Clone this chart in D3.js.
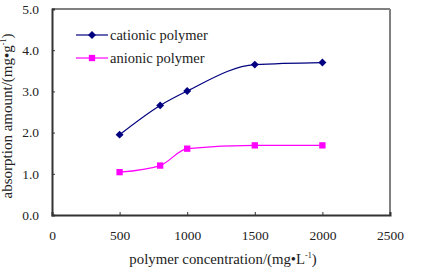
<!DOCTYPE html>
<html>
<head>
<meta charset="UTF-8">
<script src="https://d3js.org/d3.v7.min.js"></script>
</head>
<body style="margin:0">
<svg width="421" height="276" style="display:block"></svg>
<script>
    const concentration = [500, 800, 1000, 1500, 2000];
    const cationic = [1.95, 2.66, 3.01, 3.65, 3.70];
    const anionic = [1.04, 1.20, 1.61, 1.69, 1.69];
    const xTicks = [0, 500, 1000, 1500, 2000, 2500];
    const yTicks = [0, 1, 2, 3, 4, 5];

    const svg = d3.select("svg");
    const plotL = 52, plotR = 390, plotT = 9, plotB = 215;
    const serif = '"Liberation Serif"';

    function face(sel, size) {
      return sel.style("font-family", serif).attr("font-size", size).attr("fill", "#222");
    }

    const x = d3.scaleLinear().domain([0, 2500]).range([plotL, plotR]);
    const y = d3.scaleLinear().domain([0, 5]).range([plotB, plotT]);

    // frame: top/right grey, left/bottom dark
    svg.append("line").attr("x1", plotL).attr("x2", plotR).attr("y1", plotT).attr("y2", plotT)
      .attr("stroke", "#808080").attr("stroke-width", 2);
    svg.append("line").attr("x1", plotR).attr("x2", plotR).attr("y1", plotT).attr("y2", plotB)
      .attr("stroke", "#808080").attr("stroke-width", 2);

    const yAxis = svg.append("g").attr("transform", `translate(${plotL},0)`)
      .call(d3.axisLeft(y).tickValues(yTicks).tickFormat(d3.format(".1f")).tickSize(-3).tickPadding(13));
    const xAxis = svg.append("g").attr("transform", `translate(0,${plotB})`)
      .call(d3.axisBottom(x).tickValues(xTicks).tickFormat(d3.format("d")).tickSize(-3).tickPadding(15));
    [xAxis, yAxis].forEach(g => {
      g.attr("font-family", null).attr("font-size", null);
      g.select(".domain").attr("stroke", "#333").attr("stroke-width", 2);
      g.selectAll(".tick line").attr("stroke", "#333");
      face(g.selectAll(".tick text"), 13.5);
    });
    xAxis.selectAll(".tick").filter(d => d === 0 || d === 2500).select("line").remove();

    const line = d3.line().x((d, i) => x(concentration[i])).y(d => y(d))
      .curve(d3.curveMonotoneX);

    const series = [
      { name: "cationic polymer", values: cationic, color: "#000080", shape: d3.symbolDiamond2, size: 40 },
      { name: "anionic polymer", values: anionic, color: "#ff00ff", shape: d3.symbolSquare, size: 40 }
    ];

    series.forEach(s => {
      svg.append("path").attr("d", line(s.values)).attr("fill", "none")
        .attr("stroke", s.color).attr("stroke-width", 1.2);
      svg.selectAll(null).data(s.values).enter().append("path")
        .attr("d", d3.symbol().type(s.shape).size(s.size))
        .attr("transform", (d, i) => `translate(${x(concentration[i])},${y(d)})`)
        .attr("fill", s.color);
    });

    // legend
    series.forEach((s, i) => {
      const ly = 35 + i * 23;
      svg.append("line").attr("x1", 76).attr("x2", 108).attr("y1", ly).attr("y2", ly)
        .attr("stroke", s.color).attr("stroke-width", 1.2);
      svg.append("path").attr("d", d3.symbol().type(s.shape).size(s.size))
        .attr("transform", `translate(92,${ly})`).attr("fill", s.color);
      face(svg.append("text").attr("x", 110).attr("y", ly + 4.5), 14.5).text(s.name);
    });

    // axis titles
    const xt = face(svg.append("text").attr("x", 223).attr("y", 264).attr("text-anchor", "middle"), 14.8);
    xt.append("tspan").text("polymer concentration/(mg\u2022L");
    xt.append("tspan").attr("font-size", 8).attr("dy", -6).text("-1");
    xt.append("tspan").attr("dy", 6).text(")");

    const yt = face(svg.append("text").attr("transform", "translate(12,116) rotate(-90)")
      .attr("text-anchor", "middle"), 15);
    yt.append("tspan").text("absorption amount/(mg\u2022g");
    yt.append("tspan").attr("font-size", 8).attr("dy", -6).text("-1");
    yt.append("tspan").attr("dy", 6).text(")");
</script>
</body>
</html>
